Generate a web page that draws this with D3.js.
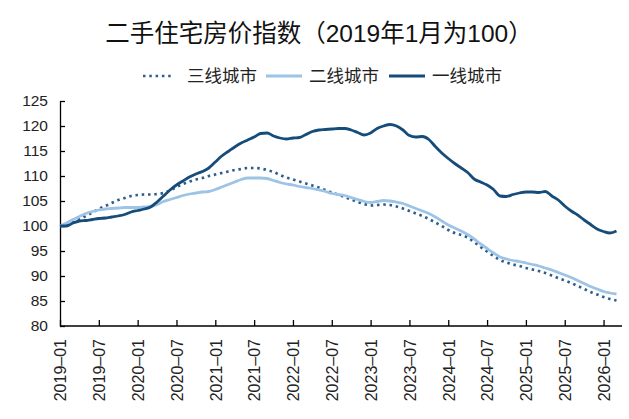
<!DOCTYPE html>
<html>
<head>
<meta charset="utf-8">
<script src="https://cdn.jsdelivr.net/npm/d3@7/dist/d3.min.js"></script>
<style>
  body { margin: 0; background: #fff; }
  svg { display: block; font-family: "Liberation Sans", Arial, "Noto Sans CJK SC", sans-serif; }
</style>
</head>
<body>
<main></main>
<script>
const title = '二手住宅房价指数（2019年1月为100）';

// monthly, 2019-01 .. 2026-03
const startMonth = new Date(2019, 0, 1);
const monthCount = 87;

const tier3 = [
  100, 100.3, 100.7, 101.3, 102.0, 102.7, 103.4, 104.0, 104.6, 105.2, 105.6, 106.0,
  106.2, 106.3, 106.3, 106.4, 106.6, 107.1, 107.8, 108.4, 108.9, 109.3, 109.6, 110.0,
  110.3, 110.6, 110.9, 111.2, 111.4, 111.6, 111.6, 111.5, 111.2, 110.8, 110.2, 109.7,
  109.3, 108.9, 108.5, 108.1, 107.7, 107.2, 106.7, 106.3, 105.8, 105.3, 104.8, 104.4,
  104.1, 104.2, 104.3, 104.2, 103.9, 103.5, 103.0, 102.5, 102.0, 101.4, 100.7, 100.0,
  99.2, 98.6, 98.2, 97.7, 96.8, 95.8, 94.9, 94.0, 93.2, 92.7, 92.3, 92.0,
  91.6, 91.3, 91.0, 90.6, 90.1, 89.6, 89.1, 88.6, 88.0, 87.4, 86.8, 86.3,
  85.8, 85.4, 85.1,
];

const tier2 = [
  100, 100.6, 101.3, 101.9, 102.5, 102.9, 103.2, 103.4, 103.5, 103.6, 103.7, 103.7,
  103.7, 103.8, 103.9, 104.3, 104.9, 105.3, 105.7, 106.1, 106.4, 106.6, 106.8, 106.9,
  107.3, 107.8, 108.3, 108.8, 109.3, 109.6, 109.6, 109.6, 109.5, 109.1, 108.7, 108.4,
  108.2, 107.9, 107.7, 107.5, 107.2, 106.9, 106.5, 106.3, 106.1, 105.7, 105.3, 104.9,
  104.7, 104.9, 105.1, 105.0, 104.8, 104.5, 104.0, 103.5, 103.0, 102.5, 101.8, 101.0,
  100.2, 99.6, 99.0, 98.3, 97.4, 96.4, 95.5, 94.6, 93.8, 93.4, 93.1, 92.9,
  92.6, 92.3, 92.0, 91.6, 91.2, 90.7, 90.2, 89.7, 89.1, 88.5, 87.9, 87.4,
  86.9, 86.6, 86.4,
];

const tier1 = [
  100, 100, 100.6, 101.0, 101.1, 101.3, 101.5, 101.6, 101.8, 102.0, 102.3, 102.8,
  103.1, 103.4, 103.8, 104.8, 106.0, 107.2, 108.2, 109.0, 109.8, 110.4, 110.9, 111.6,
  112.8, 114.0, 114.9, 115.8, 116.6, 117.2, 117.8, 118.5, 118.6, 118.0, 117.6, 117.4,
  117.6, 117.7, 118.3, 118.9, 119.2, 119.3, 119.4, 119.5, 119.5, 119.2, 118.7, 118.2,
  118.6, 119.5, 120.0, 120.3, 120.0, 119.2, 118.1, 117.8, 117.9, 117.3, 115.9, 114.6,
  113.5, 112.5, 111.6, 110.7, 109.4, 108.8, 108.2, 107.3, 106.0, 105.9, 106.3, 106.6,
  106.8, 106.8, 106.7, 106.9, 106.0, 105.2, 104.0, 103.0, 102.2, 101.2, 100.3, 99.4,
  98.9, 98.6, 99.0,
];

const seriesNames = ['三线城市', '二线城市', '一线城市'];
const seriesValues = [tier3, tier2, tier1];

const tickLabels = [
  '2019-01', '2019-07', '2020-01', '2020-07', '2021-01', '2021-07', '2022-01',
  '2022-07', '2023-01', '2023-07', '2024-01', '2024-07', '2025-01', '2025-07', '2026-01',
];
const yTicks = [80, 85, 90, 95, 100, 105, 110, 115, 120, 125];

const styles = [
  { color: '#2f5d8a', dash: '2.5 3.8', width: 2.7 },
  { color: '#9dc3e6', dash: null, width: 2.8 },
  { color: '#154c79', dash: null, width: 2.8 },
];

const width = 629;
const height = 419;

const monthKey = d3.timeFormat('%Y-%m');
const months = d3.range(monthCount).map(i => monthKey(d3.timeMonth.offset(startMonth, i)));

const xScale = d3.scalePoint().domain(months).range([60, 616.5]);
const yScale = d3.scaleLinear().domain([80, 125]).range([326, 101]);

const svg = d3
  .select('main')
  .append('svg')
  .attr('width', width)
  .attr('height', height);

svg
  .append('text')
  .attr('x', 319)
  .attr('y', 42)
  .attr('text-anchor', 'middle')
  .attr('font-size', 24.5)
  .attr('fill', '#111')
  .text(title);

// legend
const legendX = [143, 266, 389];
const legend = svg.append('g').attr('transform', 'translate(0 76)');
seriesNames.forEach((name, i) => {
  const item = legend.append('g').attr('transform', `translate(${legendX[i]} 0)`);
  item
    .append('line')
    .attr('x1', 0)
    .attr('x2', i === 0 ? 30 : 36)
    .attr('stroke', styles[i].color)
    .attr('stroke-width', styles[i].width)
    .attr('stroke-dasharray', styles[i].dash);
  item
    .append('text')
    .attr('x', i === 0 ? 44 : 43)
    .attr('dy', '0.35em')
    .attr('font-size', 17.5)
    .attr('fill', '#222')
    .text(name);
});

// axes
const yAxis = d3
  .axisLeft(yScale)
  .tickValues(yTicks)
  .tickSizeInner(-5)
  .tickSizeOuter(0)
  .tickPadding(12);

const yAxisGroup = svg.append('g').attr('transform', 'translate(60 0)').call(yAxis);

const xAxis = d3
  .axisBottom(xScale)
  .tickValues(tickLabels)
  .tickSizeInner(-6)
  .tickSizeOuter(0)
  .tickFormat(d => d.replace('-', '–'));

const xAxisGroup = svg
  .append('g')
  .attr('transform', `translate(0 ${yScale(80)})`)
  .call(xAxis);

xAxisGroup.select('.domain').remove();
xAxisGroup
  .append('line')
  .attr('x1', 60)
  .attr('x2', 622)
  .attr('stroke', '#000')
  .attr('stroke-width', 1.3);

xAxisGroup
  .selectAll('.tick text')
  .attr('transform', 'rotate(-90)')
  .attr('text-anchor', 'end')
  .attr('x', -13)
  .attr('y', 0)
  .attr('dy', '0.36em')
  .attr('font-size', 16);

yAxisGroup.selectAll('.tick text').attr('font-size', 15.5);

svg.selectAll('.tick text').attr('fill', '#222');
svg.selectAll('.tick line').attr('stroke', '#000').attr('stroke-width', 1.3);
yAxisGroup.select('.domain').attr('stroke', '#000').attr('stroke-width', 1.3);

// lines
const lineGenerator = d3
  .line()
  .x((d, i) => xScale(months[i]))
  .y(d => yScale(d))
  .curve(d3.curveMonotoneX);

seriesValues.forEach((values, i) => {
  svg
    .append('path')
    .attr('fill', 'none')
    .attr('stroke', styles[i].color)
    .attr('stroke-width', styles[i].width)
    .attr('stroke-linejoin', 'round')
    .attr('stroke-dasharray', styles[i].dash)
    .attr('d', lineGenerator(values));
});
</script>
</body>
</html>
